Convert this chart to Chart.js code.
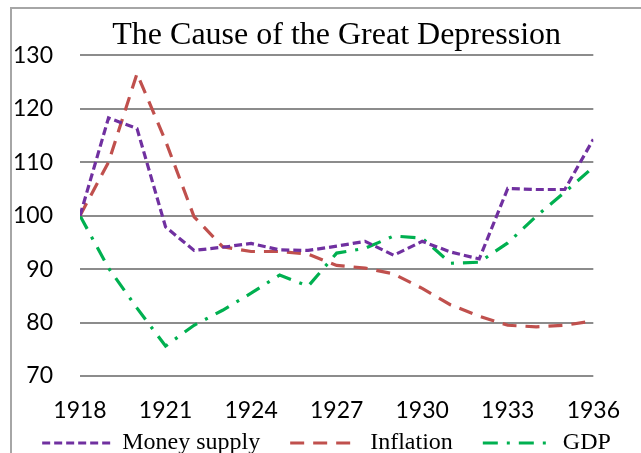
<!DOCTYPE html>
<html>
<head>
<meta charset="utf-8">
<script src="https://cdn.jsdelivr.net/npm/chart.js@4"></script>
<style>
  html, body { margin: 0; padding: 0; background: #fff; overflow: hidden; }
  #frame {
    position: absolute; left: 10px; top: 7px;
    width: 640px; height: 460px;
    border-left: 2px solid #a6a6a6; border-top: 2px solid #a6a6a6;
  }
  #chart { display: block; }
</style>
</head>
<body>
<div id="frame"><canvas id="chart" width="629" height="444"></canvas></div>
<script>
// anos
const years = [1918, 1919, 1920, 1921, 1922, 1923, 1924, 1925, 1926, 1927,
               1928, 1929, 1930, 1931, 1932, 1933, 1934, 1935, 1936];
// séries
const moneySupply = [100, 118.3, 116.3, 97.9, 93.5, 94.1, 94.8, 93.6, 93.5, 94.3,
                     95.2, 92.6, 95.2, 93.2, 91.9, 105.1, 104.9, 104.9, 114.3];
const inflation = [100, 110, 126.6, 114, 99.8, 94.2, 93.3, 93.3, 92.8, 90.7,
                   90.2, 89.1, 86.4, 83.3, 81.2, 79.5, 79.2, 79.5, 80.3];
const gdp = [100, 90.2, 82.7, 75.6, 79.5, 82.3, 85.5, 88.9, 86.8, 93,
             93.9, 96.2, 95.8, 91.1, 91.3, 94.9, 99.9, 104.4, 109.1];
// rótulos dos eixos
const yTicks = [70, 80, 90, 100, 110, 120, 130];
const xTicks = [1918, 1921, 1924, 1927, 1930, 1933, 1936];

const pontos = (vals) => years.map((y, i) => ({ x: y, y: vals[i] }));

// legenda: caixa baixa e encostada nos rótulos do eixo x
const ajusteLegenda = {
    id: 'ajusteLegenda',
    afterInit(chart) {
        const leg = chart.legend;
        const fit = leg.fit.bind(leg);
        leg.fit = () => { fit(); leg.height = 27; };
    },
    afterLayout(chart) {
        const leg = chart.legend;
        leg.top = 392;
        leg.bottom = 444;
    }
};

const ctx = document.querySelector("#chart");

new Chart(ctx, {
    type: 'line',
    data: {
        datasets: [
            {
                label: "Money supply",
                data: pontos(moneySupply),
                borderColor: "#7030A0",
                backgroundColor: "#7030A0",
                borderWidth: 3.2,
                borderDash: [8, 4]
            },
            {
                label: "Inflation",
                data: pontos(inflation),
                borderColor: "#C0504D",
                backgroundColor: "#C0504D",
                borderWidth: 3.2,
                borderDash: [14, 9]
            },
            {
                label: "GDP",
                data: pontos(gdp),
                borderColor: "#00B050",
                backgroundColor: "#00B050",
                borderWidth: 3.2,
                borderDash: [15, 9, 3, 9]
            }
        ]
    },
    plugins: [ajusteLegenda],
    options: {
        responsive: false,
        animation: false,
        elements: {
            point: { radius: 0, hoverRadius: 0 },
            line: { tension: 0, borderCapStyle: 'butt' }
        },
        layout: { padding: 0 },
        scales: {
            x: {
                type: 'linear',
                min: 1918,
                max: 1936,
                afterBuildTicks: (s) => { s.ticks = xTicks.map(v => ({ value: v })); },
                afterFit: (s) => { s.height = 50; },
                grid: { display: false, drawTicks: false },
                border: { display: false },
                ticks: {
                    padding: 21,
                    color: "#000",
                    font: { family: "Lato", size: 23 },
                    callback: (v) => String(v)
                }
            },
            y: {
                min: 70,
                max: 130,
                afterBuildTicks: (s) => { s.ticks = yTicks.map(v => ({ value: v })); },
                afterFit: (s) => { s.width = 68; },
                grid: { color: "#8c8c8c", lineWidth: 2, drawTicks: false },
                border: { display: false },
                ticks: {
                    padding: 27,
                    color: "#000",
                    font: { family: "Lato", size: 23 }
                }
            },
            // eixo vazio só para a margem da direita
            margem: {
                position: 'right',
                afterFit: (s) => { s.width = 41; },
                grid: { display: false, drawTicks: false },
                border: { display: false },
                ticks: { display: false }
            }
        },
        plugins: {
            title: {
                display: true,
                fullSize: false,
                text: "The Cause of the Great Depression",
                color: "#000",
                font: { family: "Liberation Serif", size: 32, weight: 'normal' },
                padding: { top: 7, bottom: 1 }
            },
            legend: {
                position: 'bottom',
                labels: {
                    usePointStyle: true,
                    pointStyle: 'line',
                    pointStyleWidth: 68,
                    color: "#000",
                    padding: 30,
                    font: { family: "Liberation Serif", size: 24 },
                    // traço da legenda igual ao da série
                    generateLabels: (chart) => {
                        const itens = Chart.defaults.plugins.legend.labels.generateLabels(chart);
                        itens.forEach((it) => {
                            const ds = chart.data.datasets[it.datasetIndex];
                            it.lineDash = ds.borderDash;
                            it.lineWidth = ds.borderWidth;
                            it.strokeStyle = ds.borderColor;
                        });
                        return itens;
                    }
                }
            },
            tooltip: { enabled: false }
        }
    }
});
</script>
</body>
</html>
